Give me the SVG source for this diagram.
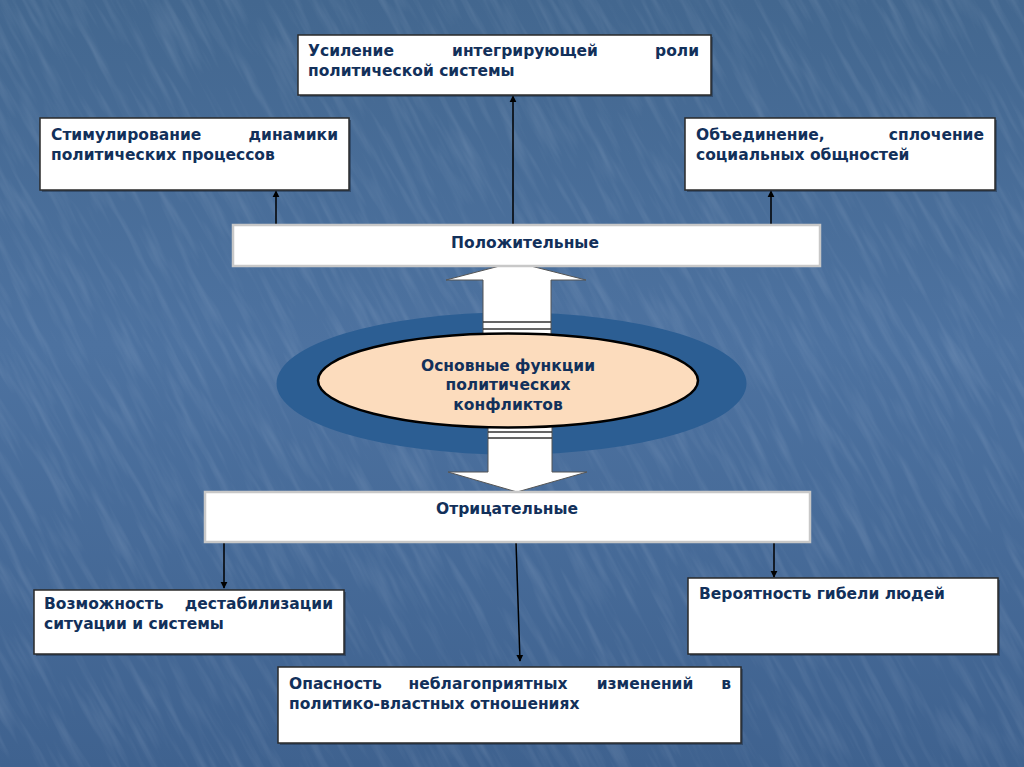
<svg xmlns="http://www.w3.org/2000/svg" width="1024" height="767" viewBox="0 0 1024 767">
<defs>
<linearGradient id="bg" x1="0" y1="0" x2="0" y2="1">
<stop offset="0" stop-color="#43678f"/>
<stop offset="0.45" stop-color="#4d72a0"/>
<stop offset="1" stop-color="#3f628f"/>
</linearGradient>
<filter id="tex" x="0" y="0" width="100%" height="100%">
<feTurbulence type="fractalNoise" baseFrequency="0.012 0.12" numOctaves="3" seed="7" result="n"/>
<feColorMatrix in="n" type="matrix" values="0 0 0 0 0.85  0 0 0 0 0.9  0 0 0 0 1  0 0 0 1.1 -0.5"/>
</filter>
<marker id="ah" viewBox="0 0 10 10" refX="9" refY="5" markerWidth="7" markerHeight="9" orient="auto" markerUnits="userSpaceOnUse">
<path d="M0,0 L10,5 L0,10 z" fill="#000"/>
</marker>
<style>
.box{fill:#fff;stroke:#2a2a2a;stroke-width:1.5}
.sh{fill:#1e2e44;opacity:0.5}
.cat{fill:#fff;stroke:#c8c8c8;stroke-width:2.5}
.t{font-family:"DejaVu Sans","Liberation Sans",sans-serif;font-weight:bold;font-size:15.5px;fill:#12305a}
.m{text-anchor:middle}
.e{text-anchor:end}
.ln{stroke:#000;stroke-width:1.5;fill:none}
.arr{fill:#fff;stroke:#555;stroke-width:1}
.st{stroke:#333;stroke-width:1.5}
</style>
</defs>
<rect width="1024" height="767" fill="url(#bg)"/>
<g transform="rotate(62 512 383)" opacity="0.22">
<rect x="-200" y="-300" width="1424" height="1367" filter="url(#tex)"/>
</g>

<g id="connectors">
<line class="ln" x1="513" y1="225" x2="513" y2="96" marker-end="url(#ah)"/>
<line class="ln" x1="276" y1="225" x2="276" y2="191" marker-end="url(#ah)"/>
<line class="ln" x1="771" y1="225" x2="771" y2="191" marker-end="url(#ah)"/>
<line class="ln" x1="224" y1="542" x2="224" y2="588" marker-end="url(#ah)"/>
<line class="ln" x1="516" y1="542" x2="520" y2="661" marker-end="url(#ah)"/>
<line class="ln" x1="774" y1="542" x2="774" y2="577" marker-end="url(#ah)"/>
</g>

<g id="ring">
<ellipse cx="511.5" cy="383.5" rx="235" ry="71" fill="#2c5e93"/>
</g>

<g id="arrow-up">
<path class="arr" d="M483,338 L483,280 L446,280 L515,262 L586,280 L551,280 L551,338 z"/>
<line class="st" x1="483" y1="322" x2="551" y2="322"/>
<line class="st" x1="483" y1="329" x2="551" y2="329"/>
</g>
<g id="arrow-down">
<path class="arr" d="M488,424 L488,472 L448,472 L517,492 L587,472 L552,472 L552,424 z"/>
<line class="st" x1="488" y1="432" x2="552" y2="432"/>
<line class="st" x1="488" y1="438" x2="552" y2="438"/>
</g>

<g id="center">
<ellipse cx="508" cy="380.5" rx="190" ry="47" fill="#fcdcbd" stroke="#000" stroke-width="2.5"/>
<text class="t m" x="508" y="371">Основные функции</text>
<text class="t m" x="508" y="390">политических</text>
<text class="t m" x="508" y="410">конфликтов</text>
</g>

<g id="top">
<rect class="sh" x="300" y="37" width="413" height="60"/>
<rect class="box" x="298" y="35" width="413" height="60"/>
<text class="t" x="308" y="56">Усиление</text>
<text class="t m" x="525" y="56">интегрирующей</text>
<text class="t e" x="699" y="56">роли</text>
<text class="t" x="308" y="76">политической системы</text>
</g>

<g id="left-top">
<rect class="sh" x="42" y="120" width="309" height="72"/>
<rect class="box" x="40" y="118" width="309" height="72"/>
<text class="t" x="51" y="140">Стимулирование</text>
<text class="t e" x="338" y="140">динамики</text>
<text class="t" x="51" y="160">политических процессов</text>
</g>

<g id="right-top">
<rect class="sh" x="687" y="120" width="310" height="72"/>
<rect class="box" x="685" y="118" width="310" height="72"/>
<text class="t" x="696" y="140">Объединение,</text>
<text class="t e" x="984" y="140">сплочение</text>
<text class="t" x="696" y="160">социальных общностей</text>
</g>

<g id="positive">
<rect class="cat" x="233" y="225" width="587" height="41"/>
<text class="t m" x="525" y="248">Положительные</text>
</g>

<g id="negative">
<rect class="cat" x="205" y="492" width="605" height="50"/>
<text class="t m" x="507" y="514">Отрицательные</text>
</g>

<g id="bottom-left">
<rect class="sh" x="36" y="592" width="310" height="64"/>
<rect class="box" x="34" y="590" width="310" height="64"/>
<text class="t" x="44" y="609">Возможность</text>
<text class="t e" x="333" y="609">дестабилизации</text>
<text class="t" x="44" y="629">ситуации и системы</text>
</g>

<g id="bottom-right">
<rect class="sh" x="690" y="580" width="310" height="76"/>
<rect class="box" x="688" y="578" width="310" height="76"/>
<text class="t" x="699" y="599">Вероятность гибели людей</text>
</g>

<g id="bottom-center">
<rect class="sh" x="280" y="669" width="463" height="76"/>
<rect class="box" x="278" y="667" width="463" height="76"/>
<text class="t" x="289" y="689">Опасность</text>
<text class="t m" x="488" y="689">неблагоприятных</text>
<text class="t m" x="645" y="689">изменений</text>
<text class="t e" x="731" y="689">в</text>
<text class="t" x="289" y="709">политико-властных отношениях</text>
</g>
</svg>
